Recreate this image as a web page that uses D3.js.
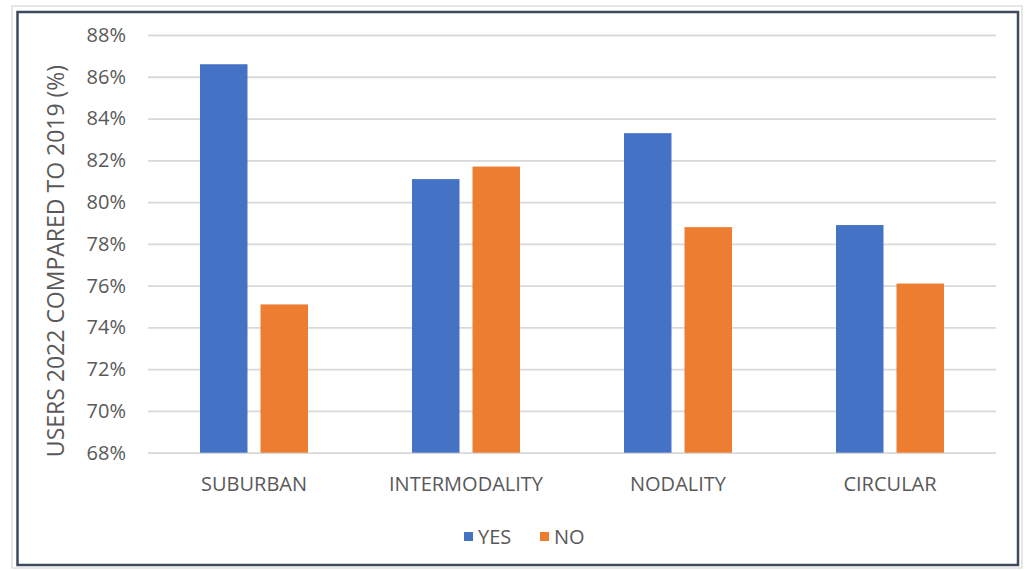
<!DOCTYPE html>
<html>
<head>
<meta charset="utf-8">
<script src="https://cdn.jsdelivr.net/npm/d3@7"></script>
<style>
  html, body { margin: 0; padding: 0; background: #ffffff; }
  svg { display: block; }
  text { font-family: "Open Sans", "Liberation Sans", sans-serif; fill: #595959; }
</style>
</head>
<body>
<svg id="chart" width="1026" height="570"></svg>
<script>
// Share of 2022 users relative to 2019, by line type
const categories = ["SUBURBAN", "INTERMODALITY", "NODALITY", "CIRCULAR"];
const seriesNames = ["YES", "NO"];
const yesValues = [86.6, 81.1, 83.3, 78.9];
const noValues = [75.1, 81.7, 78.8, 76.1];
const yTicks = [68, 70, 72, 74, 76, 78, 80, 82, 84, 86, 88];
const yTitle = "USERS 2022 COMPARED TO 2019 (%)";

const colors = { YES: "#4472C4", NO: "#ED7D31" };

const svg = d3.select("#chart");

// frame
svg.append("rect")
  .attr("x", 12).attr("y", 6).attr("width", 1010).attr("height", 562)
  .attr("fill", "none").attr("stroke", "#d0d0d0").attr("stroke-width", 1);
svg.append("rect")
  .attr("x", 17.5).attr("y", 12).attr("width", 1000.5).attr("height", 553)
  .attr("fill", "#ffffff").attr("stroke", "#3e4a5c").attr("stroke-width", 2.5);

const plot = { left: 148, right: 996, top: 35, bottom: 452.7 };

const y = d3.scaleLinear().domain([68, 88]).range([plot.bottom, plot.top]);
const x0 = d3.scaleBand().domain(categories).range([plot.left, plot.right]).padding(0);
const x1 = d3.scaleBand().domain(seriesNames).range([52, 160]).paddingInner(0.215).paddingOuter(0);

// gridlines
const yAxis = d3.axisLeft(y)
  .tickValues(yTicks)
  .tickSize(-(plot.right - plot.left))
  .tickPadding(22)
  .tickFormat(d => d + "%");

const gy = svg.append("g")
  .attr("transform", `translate(${plot.left},0)`)
  .call(yAxis);
gy.select(".domain").remove();
gy.selectAll(".tick line").attr("stroke", "#d9d9d9").attr("stroke-width", 1.8);
gy.selectAll(".tick text")
  .style("font-size", "20px")
  .attr("fill", "#595959");

// bars
const rows = categories.map((c, i) => ({ category: c, YES: yesValues[i], NO: noValues[i] }));

const groups = svg.append("g").selectAll("g")
  .data(rows)
  .join("g")
  .attr("transform", d => `translate(${x0(d.category)},0)`);

groups.selectAll("rect")
  .data(d => seriesNames.map(s => ({ key: s, value: d[s] })))
  .join("rect")
  .attr("x", d => x1(d.key))
  .attr("width", x1.bandwidth())
  .attr("y", d => y(d.value))
  .attr("height", d => y(68) - y(d.value))
  .attr("fill", d => colors[d.key]);

// category axis
const xAxis = d3.axisBottom(x0).tickSize(0).tickPadding(24);
const gx = svg.append("g")
  .attr("transform", `translate(0,${plot.bottom})`)
  .call(xAxis);
gx.select(".domain").remove();
gx.selectAll(".tick text")
  .style("font-size", "20px")
  .attr("fill", "#595959");

// y-axis title
svg.append("text")
  .attr("transform", "translate(64,261) rotate(-90)")
  .attr("text-anchor", "middle")
  .style("font-size", "23px")
  .attr("fill", "#595959")
  .text(yTitle);

// legend
const legend = svg.append("g").attr("transform", "translate(464,537)");
const legendItems = legend.selectAll("g")
  .data(seriesNames)
  .join("g")
  .attr("transform", (d, i) => `translate(${i * 76},0)`);
legendItems.append("rect")
  .attr("x", 0).attr("y", -5).attr("width", 9).attr("height", 9)
  .attr("fill", d => colors[d]);
legendItems.append("text")
  .attr("x", 14).attr("y", 0)
  .attr("dy", "0.35em")
  .style("font-size", "20px")
  .attr("fill", "#595959")
  .text(d => d);
</script>
</body>
</html>
